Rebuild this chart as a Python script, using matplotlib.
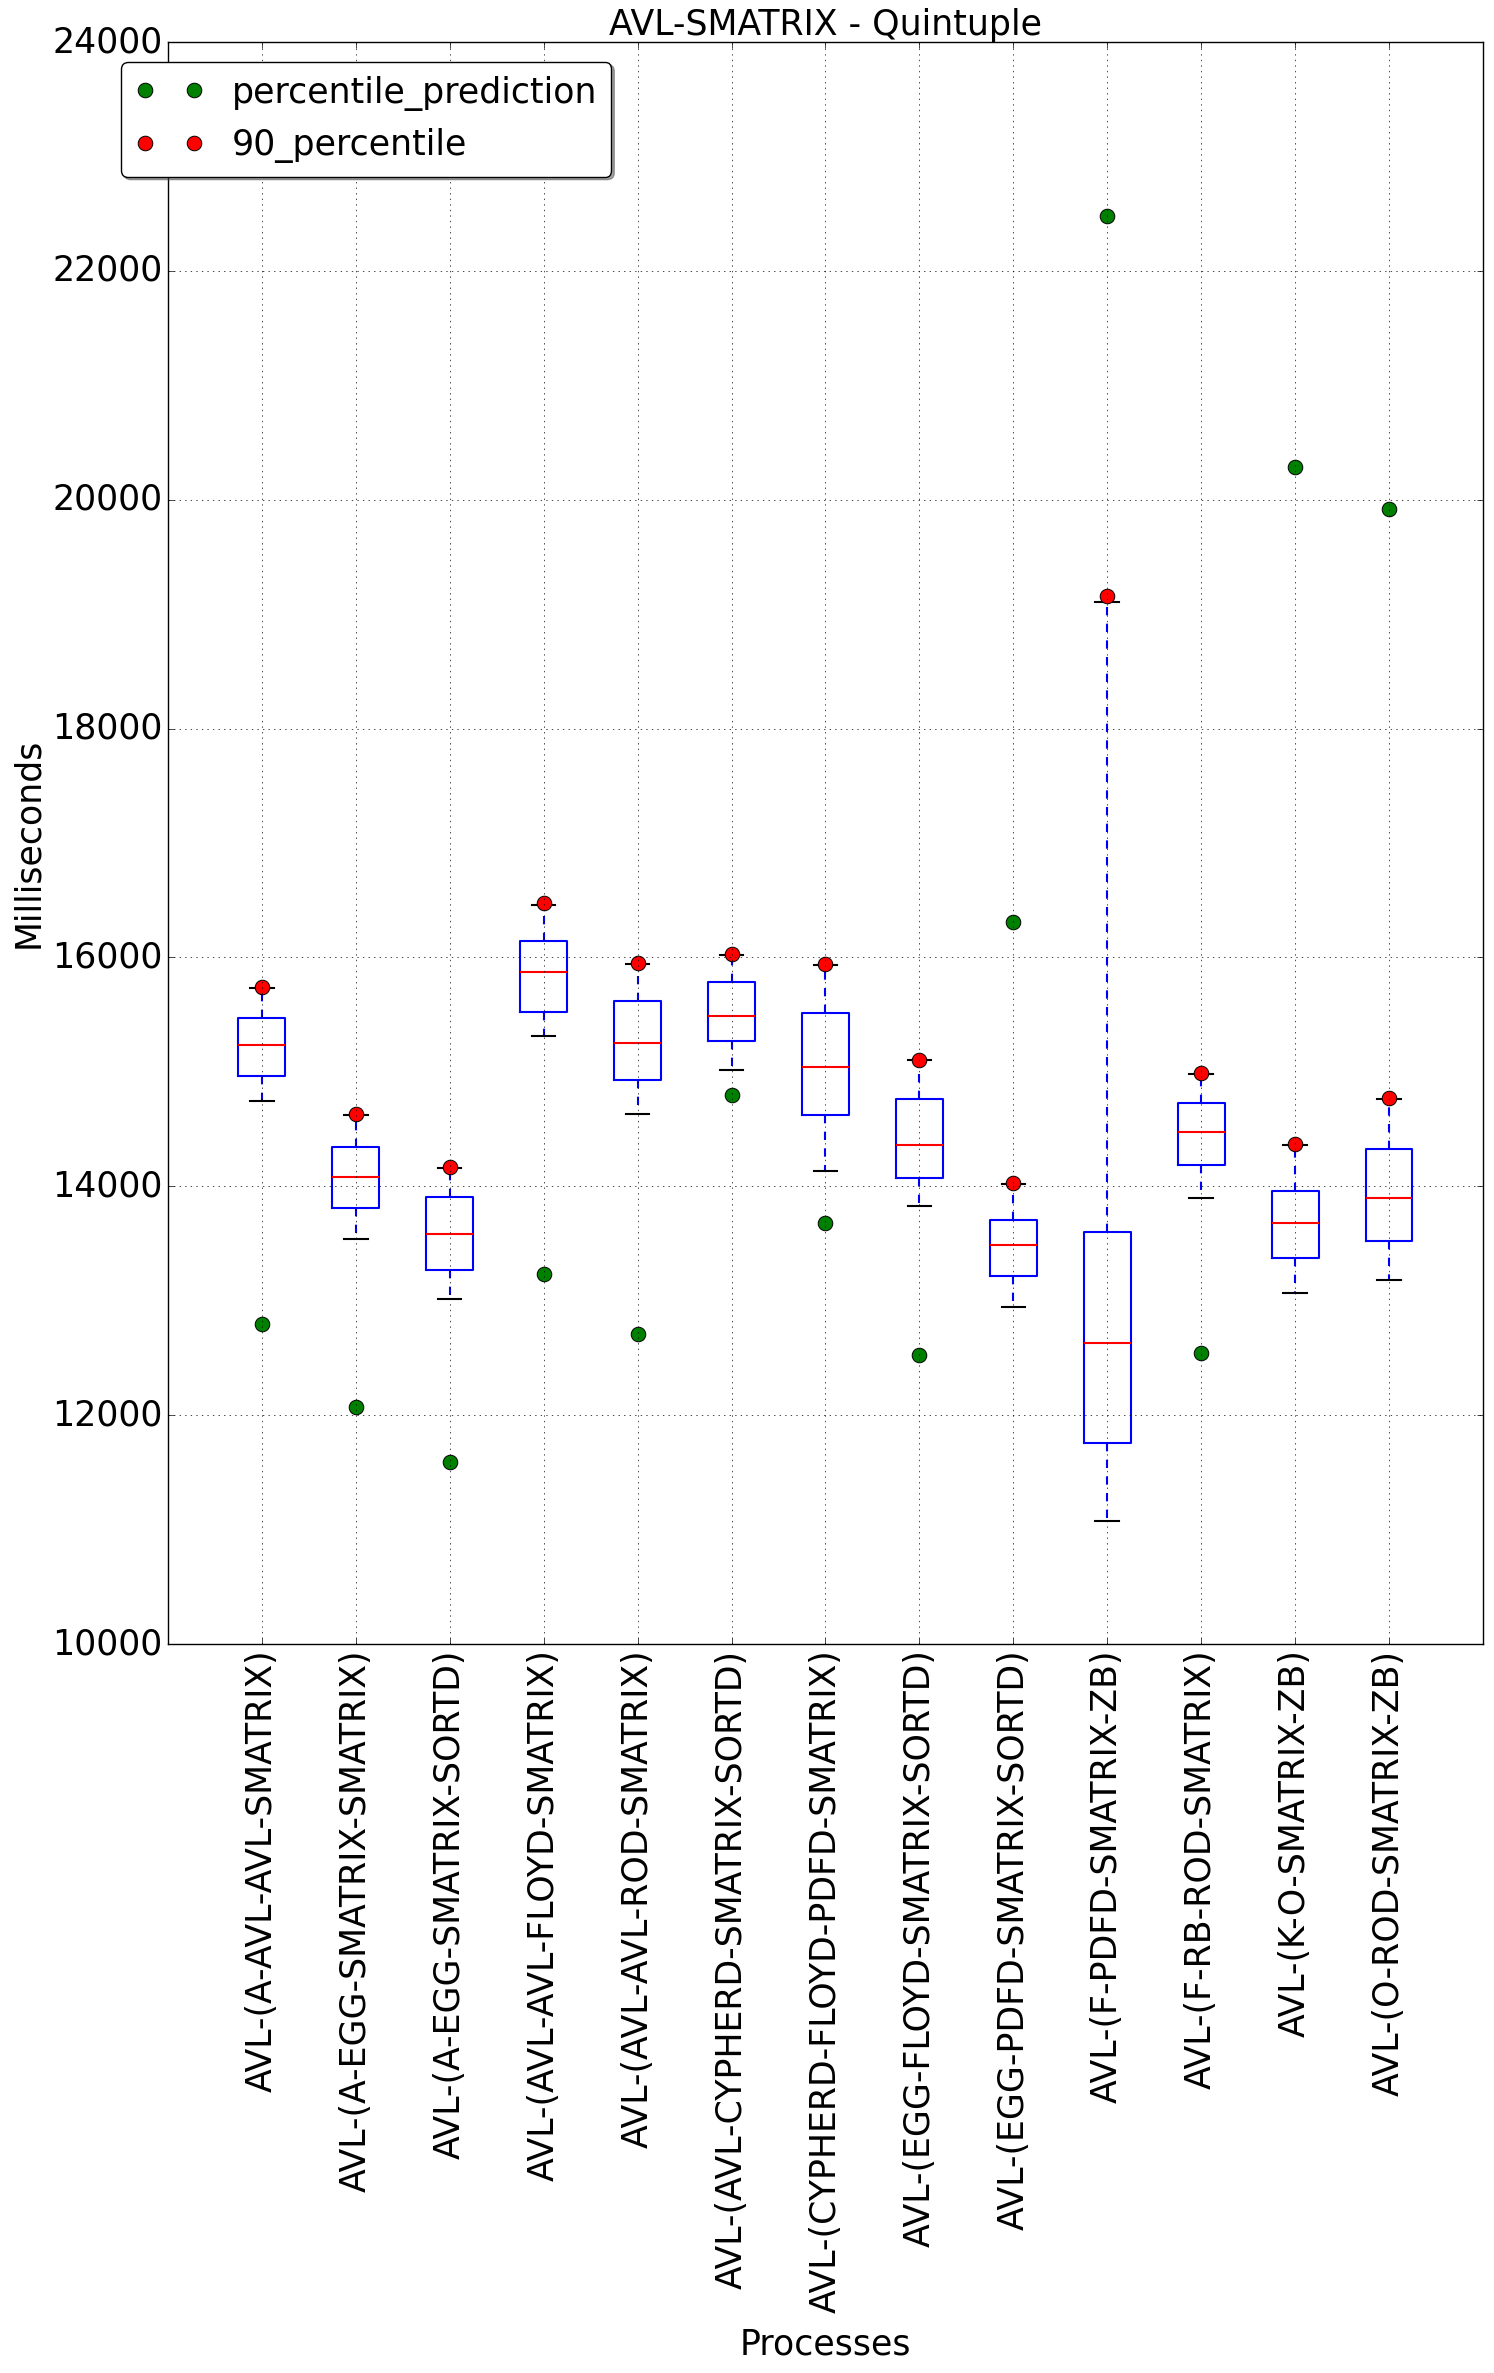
import matplotlib
matplotlib.use('Agg')
import matplotlib.pyplot as plt

plt.style.use('classic')

categories = [
    "AVL-(A-AVL-AVL-SMATRIX)",
    "AVL-(A-EGG-SMATRIX-SMATRIX)",
    "AVL-(A-EGG-SMATRIX-SORTD)",
    "AVL-(AVL-AVL-FLOYD-SMATRIX)",
    "AVL-(AVL-AVL-ROD-SMATRIX)",
    "AVL-(AVL-CYPHERD-SMATRIX-SORTD)",
    "AVL-(CYPHERD-FLOYD-PDFD-SMATRIX)",
    "AVL-(EGG-FLOYD-SMATRIX-SORTD)",
    "AVL-(EGG-PDFD-SMATRIX-SORTD)",
    "AVL-(F-PDFD-SMATRIX-ZB)",
    "AVL-(F-RB-ROD-SMATRIX)",
    "AVL-(K-O-SMATRIX-ZB)",
    "AVL-(O-ROD-SMATRIX-ZB)",
]
whislo = [14747, 13538, 13013, 15317, 14628, 15016, 14138, 13825, 12946, 11072, 13900, 13066, 13180]
q1     = [14966, 13810, 13267, 15527, 14931, 15271, 14621, 14070, 13215, 11760, 14184, 13373, 13526]
med    = [15238, 14082, 13582, 15869, 15255, 15491, 15043, 14357, 13488, 12627, 14471, 13681, 13898]
q3     = [15474, 14344, 13906, 16141, 15623, 15789, 15517, 14761, 13707, 13602, 14726, 13962, 14322]
whishi = [15737, 14620, 14160, 16460, 15945, 16020, 15930, 15100, 14020, 19105, 14985, 14360, 14765]
p90    = [15746, 14628, 14169, 16472, 15950, 16029, 15939, 15104, 14027, 19158, 14990, 14366, 14770]
pred   = [12794, 12067, 11588, 13235, 12706, 14797, 13675, 12530, 16307, 22481, 12539, 20286, 19922]

FS = 25
fig = plt.figure(figsize=(14.94, 23.73), dpi=100)
fig.subplots_adjust(left=0.1124, right=0.9926, top=0.9823, bottom=0.3072)
ax = fig.add_subplot(111)

positions = list(range(1, len(categories) + 1))
stats = [dict(med=m, q1=a, q3=b, whislo=lo, whishi=hi, fliers=[], label=c)
         for m, a, b, lo, hi, c in zip(med, q1, q3, whislo, whishi, categories)]
ax.bxp(stats, positions=positions, widths=0.5, showfliers=False,
       boxprops=dict(color='b', linewidth=1.5),
       whiskerprops=dict(color='b', linestyle=(0, (6, 6)), linewidth=1.5),
       capprops=dict(color='k', linewidth=1.5),
       medianprops=dict(color='r', linewidth=1.5))

ax.plot(positions, pred, 'o', color='g', markeredgecolor='k', markeredgewidth=0.7,
        markersize=10.5, label='percentile_prediction')
ax.plot(positions, p90, 'o', color='r', markeredgecolor='k', markeredgewidth=0.7,
        markersize=10.5, label='90_percentile')

ax.set_xlim(0, len(categories) + 1)
ax.set_ylim(10000, 24000)
ax.set_yticks(range(10000, 24001, 2000))
ax.set_xticks(positions)
ax.set_xticklabels(categories, rotation=90, fontsize=FS)
ax.tick_params(axis='y', labelsize=FS)
ax.grid(True)
ax.set_title('AVL-SMATRIX - Quintuple', fontsize=FS)
ax.set_xlabel('Processes', fontsize=FS, labelpad=10)
ax.set_ylabel('Milliseconds', fontsize=FS)

ax.legend(loc='upper left', bbox_to_anchor=(-0.0357, 0.9877), borderaxespad=0,
          numpoints=2, shadow=True, fancybox=True, fontsize=FS)

fig.savefig('out.png', dpi=100)
